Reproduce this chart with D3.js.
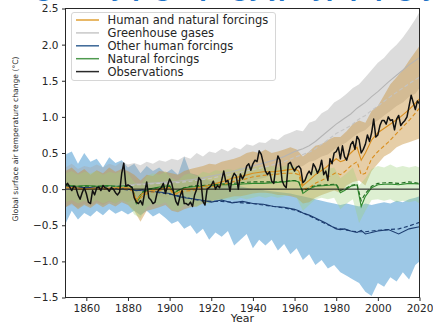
<!DOCTYPE html>
<html lang="en">
<head>
<meta charset="UTF-8">
<title>Global surface air temperature change</title>
<script src="https://d3js.org/d3.v7.min.js"></script>
<style>
    body {
        margin: 0;
        background: #fff;
        font-family: 'DejaVu Sans', sans-serif;
    }
    svg { display: block; }
    .tick text { font-size: 10.5px; fill: #262626; font-family: 'DejaVu Sans', sans-serif; }
    .tick line { stroke: #262626; }
</style>
</head>
<body>
<div id="chart"></div>
<script>
// ---- data ----
const xTicks = [1860, 1880, 1900, 1920, 1940, 1960, 1980, 2000, 2020];
const yTicks = [-1.5, -1.0, -0.5, 0.0, 0.5, 1.0, 1.5, 2.0, 2.5];

const legendLabels = ['Human and natural forcings', 'Greenhouse gases', 'Other human forcings', 'Natural forcings', 'Observations'];

// observations, one value per year
const obsYears = [
    1850, 1851, 1852, 1853, 1854, 1855, 1856, 1857, 1858, 1859,
    1860, 1861, 1862, 1863, 1864, 1865, 1866, 1867, 1868, 1869,
    1870, 1871, 1872, 1873, 1874, 1875, 1876, 1877, 1878, 1879,
    1880, 1881, 1882, 1883, 1884, 1885, 1886, 1887, 1888, 1889,
    1890, 1891, 1892, 1893, 1894, 1895, 1896, 1897, 1898, 1899,
    1900, 1901, 1902, 1903, 1904, 1905, 1906, 1907, 1908, 1909,
    1910, 1911, 1912, 1913, 1914, 1915, 1916, 1917, 1918, 1919,
    1920, 1921, 1922, 1923, 1924, 1925, 1926, 1927, 1928, 1929,
    1930, 1931, 1932, 1933, 1934, 1935, 1936, 1937, 1938, 1939,
    1940, 1941, 1942, 1943, 1944, 1945, 1946, 1947, 1948, 1949,
    1950, 1951, 1952, 1953, 1954, 1955, 1956, 1957, 1958, 1959,
    1960, 1961, 1962, 1963, 1964, 1965, 1966, 1967, 1968, 1969,
    1970, 1971, 1972, 1973, 1974, 1975, 1976, 1977, 1978, 1979,
    1980, 1981, 1982, 1983, 1984, 1985, 1986, 1987, 1988, 1989,
    1990, 1991, 1992, 1993, 1994, 1995, 1996, 1997, 1998, 1999,
    2000, 2001, 2002, 2003, 2004, 2005, 2006, 2007, 2008, 2009,
    2010, 2011, 2012, 2013, 2014, 2015, 2016, 2017, 2018, 2019,
    2020
];
const observations = [
    0.05, 0.08, 0.03, -0.02, 0.04, 0.02, -0.08, -0.14, -0.05, 0.02,
    -0.06, -0.18, -0.20, -0.02, -0.08, 0.02, 0.03, -0.02, 0.05, 0.02,
    0.01, -0.03, 0.02, 0.00, -0.05, -0.08, -0.04, 0.22, 0.36, 0.04,
    0.06, 0.04, 0.02, -0.12, -0.18, -0.20, -0.16, -0.22, -0.05, 0.10,
    -0.12, -0.15, -0.20, -0.18, -0.05, 0.00, 0.02, 0.08, -0.06, 0.05,
    0.14, 0.08, -0.05, -0.17, -0.22, -0.10, -0.02, -0.20, -0.20, -0.22,
    -0.18, -0.24, -0.08, 0.00, 0.16, 0.12, -0.17, -0.22, 0.00, 0.02,
    0.05, 0.11, 0.00, 0.05, 0.02, 0.12, 0.25, 0.10, 0.12, -0.03,
    0.15, 0.22, 0.18, 0.00, 0.21, 0.14, 0.20, 0.32, 0.35, 0.26,
    0.35, 0.40, 0.38, 0.53, 0.48, 0.36, 0.25, 0.20, 0.24, 0.11,
    0.08, 0.30, 0.46, 0.40, 0.12, 0.05, 0.02, 0.35, 0.37, 0.30,
    0.25, 0.30, 0.32, 0.28, 0.09, 0.12, 0.20, 0.25, 0.20, 0.35,
    0.30, 0.22, 0.28, 0.40, 0.20, 0.25, 0.12, 0.42, 0.35, 0.50,
    0.52, 0.58, 0.42, 0.60, 0.45, 0.40, 0.50, 0.62, 0.66, 0.55,
    0.73, 0.68, 0.50, 0.55, 0.62, 0.75, 0.66, 0.78, 0.97, 0.72,
    0.75, 0.88, 0.95, 0.95, 0.90, 1.00, 0.95, 0.96, 0.82, 0.97,
    1.02, 0.88, 0.92, 0.95, 1.00, 1.15, 1.30, 1.20, 1.10, 1.22,
    1.18
];

// model ensemble means (solid) and alternative estimates (dashed)
const meanYears = [1850, 1855, 1860, 1865, 1870, 1875, 1880, 1882, 1884, 1887,
    1890, 1895, 1900, 1902, 1904, 1907, 1910, 1915, 1920, 1925,
    1930, 1935, 1940, 1945, 1950, 1955, 1960, 1962, 1964, 1967,
    1970, 1975, 1980, 1982, 1984, 1987, 1990, 1992, 1994, 1997,
    2000, 2005, 2010, 2015, 2020];
const humanNatural = [0.03, 0.02, 0.00, 0.02, 0.01, 0.02, 0.02, 0.00, -0.15, -0.06,
    -0.03, 0.00, 0.02, -0.06, -0.05, 0.00, 0.00, 0.03, 0.06, 0.10,
    0.15, 0.18, 0.22, 0.24, 0.24, 0.26, 0.28, 0.25, 0.05, 0.12,
    0.20, 0.30, 0.42, 0.38, 0.40, 0.50, 0.58, 0.40, 0.50, 0.68,
    0.78, 0.88, 0.98, 1.10, 1.25];
const humanNaturalAlt = [0.02, 0.00, 0.00, 0.00, 0.00, 0.01, 0.00, -0.02, -0.18, -0.10,
    -0.05, -0.02, 0.00, -0.08, -0.06, -0.03, -0.02, 0.00, 0.03, 0.06,
    0.10, 0.13, 0.17, 0.19, 0.20, 0.22, 0.22, 0.20, 0.00, 0.02,
    0.08, 0.15, 0.23, 0.20, 0.24, 0.32, 0.38, 0.20, 0.22, 0.42,
    0.52, 0.65, 0.80, 0.95, 1.12];
const greenhouse = [0.00, 0.01, 0.02, 0.03, 0.04, 0.05, 0.06, 0.06, 0.07, 0.07,
    0.08, 0.09, 0.10, 0.10, 0.11, 0.12, 0.13, 0.15, 0.18, 0.21,
    0.24, 0.28, 0.32, 0.36, 0.40, 0.45, 0.52, 0.54, 0.56, 0.60,
    0.66, 0.78, 0.90, 0.94, 0.98, 1.04, 1.12, 1.16, 1.20, 1.28,
    1.35, 1.48, 1.60, 1.72, 1.82];
const greenhouseAlt = [0.00, 0.01, 0.02, 0.02, 0.03, 0.04, 0.05, 0.05, 0.06, 0.06,
    0.07, 0.08, 0.08, 0.09, 0.09, 0.10, 0.11, 0.13, 0.15, 0.18,
    0.20, 0.24, 0.27, 0.30, 0.34, 0.38, 0.44, 0.46, 0.48, 0.51,
    0.56, 0.66, 0.77, 0.80, 0.83, 0.88, 0.95, 0.99, 1.02, 1.09,
    1.15, 1.26, 1.36, 1.46, 1.55];
const otherHuman = [0.05, 0.03, 0.02, 0.03, 0.00, 0.01, 0.00, -0.01, -0.02, -0.01,
    -0.03, -0.04, -0.06, -0.08, -0.10, -0.12, -0.13, -0.15, -0.18, -0.15,
    -0.19, -0.17, -0.20, -0.21, -0.24, -0.25, -0.28, -0.30, -0.33, -0.36,
    -0.40, -0.47, -0.55, -0.56, -0.55, -0.58, -0.60, -0.57, -0.62, -0.60,
    -0.58, -0.56, -0.62, -0.55, -0.52];
const otherHumanAlt = [0.04, 0.03, 0.02, 0.01, 0.00, 0.00, -0.01, -0.01, -0.02, -0.02,
    -0.03, -0.05, -0.07, -0.08, -0.09, -0.11, -0.13, -0.16, -0.17, -0.17,
    -0.18, -0.19, -0.20, -0.22, -0.24, -0.26, -0.29, -0.31, -0.33, -0.37,
    -0.41, -0.48, -0.54, -0.55, -0.56, -0.58, -0.59, -0.59, -0.59, -0.58,
    -0.57, -0.56, -0.55, -0.51, -0.46];
const natural = [0.06, 0.04, 0.05, 0.04, 0.05, 0.04, 0.05, 0.03, -0.20, -0.05,
    0.00, 0.03, 0.05, -0.06, -0.02, 0.02, 0.03, 0.04, 0.05, 0.06,
    0.06, 0.07, 0.08, 0.08, 0.09, 0.10, 0.12, 0.10, -0.06, 0.00,
    0.04, 0.05, 0.06, -0.05, -0.02, 0.04, 0.06, -0.24, -0.10, 0.02,
    0.06, 0.07, 0.06, 0.08, 0.07];
const naturalAlt = [0.05, 0.04, 0.04, 0.04, 0.04, 0.04, 0.04, 0.02, -0.16, -0.04,
    0.00, 0.02, 0.04, -0.05, -0.02, 0.02, 0.04, 0.05, 0.06, 0.07,
    0.08, 0.09, 0.10, 0.10, 0.10, 0.11, 0.12, 0.10, -0.03, 0.02,
    0.05, 0.06, 0.07, -0.02, 0.00, 0.05, 0.07, -0.16, -0.06, 0.04,
    0.08, 0.09, 0.08, 0.10, 0.08];

// 5-95% ranges
const bandYears = [1850, 1853, 1856, 1859, 1862, 1865, 1868, 1871, 1874, 1877,
    1880, 1883, 1886, 1889, 1892, 1895, 1898, 1901, 1904, 1907,
    1910, 1913, 1916, 1919, 1922, 1925, 1928, 1931, 1934, 1937,
    1940, 1943, 1946, 1949, 1952, 1955, 1958, 1961, 1964, 1967,
    1970, 1973, 1976, 1979, 1982, 1985, 1988, 1991, 1994, 1997,
    2000, 2003, 2006, 2009, 2012, 2015, 2018, 2020];
const otherHumanHi = [0.48, 0.52, 0.35, 0.50, 0.38, 0.42, 0.30, 0.44, 0.36, 0.40,
    0.30, 0.35, 0.22, 0.32, 0.25, 0.30, 0.22, 0.28, 0.20, 0.45,
    0.22, 0.20, 0.15, 0.12, 0.10, 0.08, 0.06, 0.05, 0.04, 0.02,
    0.00, 0.00, -0.02, -0.03, -0.04, -0.05, -0.06, -0.08, -0.10, -0.12,
    -0.14, -0.16, -0.18, -0.20, -0.22, -0.20, -0.22, -0.24, -0.20, -0.22,
    -0.20, -0.18, -0.20, -0.16, -0.18, -0.14, -0.12, -0.10];
const otherHumanLo = [-0.48, -0.30, -0.42, -0.33, -0.38, -0.30, -0.36, -0.28, -0.34, -0.30,
    -0.35, -0.30, -0.36, -0.30, -0.38, -0.33, -0.40, -0.48, -0.44, -0.55,
    -0.50, -0.62, -0.55, -0.70, -0.60, -0.66, -0.58, -0.78, -0.70, -0.62,
    -0.82, -0.70, -0.78, -0.70, -0.85, -0.76, -0.90, -0.82, -0.98, -0.90,
    -1.05, -0.98, -1.10, -1.05, -1.15, -1.20, -1.25, -1.30, -1.42, -1.48,
    -1.30, -1.35, -1.22, -1.28, -1.15, -1.25, -1.05, -1.00];
const greenhouseHi = [0.30, 0.35, 0.28, 0.32, 0.30, 0.34, 0.30, 0.35, 0.32, 0.38,
    0.34, 0.36, 0.33, 0.38, 0.35, 0.40, 0.38, 0.42, 0.40, 0.45,
    0.42, 0.50, 0.45, 0.52, 0.50, 0.56, 0.52, 0.58, 0.55, 0.62,
    0.60, 0.65, 0.64, 0.70, 0.68, 0.75, 0.78, 0.82, 0.80, 0.92,
    0.95, 1.05, 1.10, 1.20, 1.25, 1.32, 1.40, 1.45, 1.55, 1.65,
    1.75, 1.82, 1.92, 2.00, 2.10, 2.22, 2.35, 2.45];
const greenhouseLo = [-0.25, -0.22, -0.26, -0.20, -0.24, -0.18, -0.22, -0.17, -0.20, -0.15,
    -0.18, -0.14, -0.16, -0.12, -0.15, -0.10, -0.12, -0.08, -0.10, -0.06,
    -0.08, -0.04, -0.05, 0.00, -0.02, 0.02, 0.04, 0.06, 0.05, 0.10,
    0.12, 0.14, 0.16, 0.20, 0.20, 0.24, 0.26, 0.30, 0.32, 0.38,
    0.40, 0.45, 0.48, 0.55, 0.60, 0.65, 0.72, 0.78, 0.82, 0.90,
    0.95, 1.02, 1.08, 1.15, 1.20, 1.28, 1.32, 1.40];
const humanNaturalHi = [0.25, 0.30, 0.22, 0.28, 0.20, 0.26, 0.22, 0.30, 0.24, 0.28,
    0.25, 0.20, 0.12, 0.20, 0.18, 0.25, 0.24, 0.22, 0.20, 0.25,
    0.28, 0.30, 0.32, 0.35, 0.34, 0.38, 0.40, 0.42, 0.45, 0.50,
    0.52, 0.50, 0.55, 0.50, 0.52, 0.55, 0.58, 0.55, 0.45, 0.52,
    0.60, 0.62, 0.68, 0.72, 0.72, 0.80, 0.90, 0.95, 0.92, 1.08,
    1.15, 1.30, 1.45, 1.55, 1.65, 1.78, 1.90, 1.98];
const humanNaturalLo = [-0.25, -0.20, -0.28, -0.22, -0.26, -0.20, -0.25, -0.20, -0.24, -0.18,
    -0.22, -0.30, -0.45, -0.30, -0.28, -0.25, -0.22, -0.30, -0.32, -0.28,
    -0.25, -0.24, -0.20, -0.18, -0.15, -0.14, -0.12, -0.10, -0.10, -0.08,
    -0.06, -0.05, -0.05, -0.06, -0.08, -0.08, -0.10, -0.12, -0.20, -0.18,
    -0.12, -0.08, -0.05, -0.02, -0.05, 0.05, 0.10, 0.12, 0.05, 0.25,
    0.35, 0.45, 0.50, 0.58, 0.62, 0.65, 0.68, 0.70];
const naturalHi = [0.22, 0.25, 0.20, 0.24, 0.22, 0.25, 0.20, 0.24, 0.22, 0.25,
    0.22, 0.10, 0.05, 0.18, 0.22, 0.20, 0.24, 0.15, 0.12, 0.20,
    0.22, 0.18, 0.24, 0.22, 0.26, 0.25, 0.28, 0.26, 0.30, 0.28,
    0.30, 0.32, 0.30, 0.32, 0.30, 0.32, 0.34, 0.30, 0.12, 0.20,
    0.28, 0.30, 0.28, 0.30, 0.15, 0.22, 0.30, 0.05, 0.15, 0.28,
    0.32, 0.30, 0.34, 0.30, 0.32, 0.30, 0.32, 0.30];
const naturalLo = [-0.18, -0.15, -0.20, -0.16, -0.20, -0.15, -0.20, -0.16, -0.20, -0.15,
    -0.20, -0.35, -0.40, -0.25, -0.20, -0.22, -0.18, -0.28, -0.30, -0.22,
    -0.20, -0.25, -0.18, -0.20, -0.15, -0.16, -0.14, -0.15, -0.12, -0.14,
    -0.12, -0.10, -0.12, -0.10, -0.12, -0.10, -0.08, -0.12, -0.30, -0.22,
    -0.14, -0.12, -0.14, -0.12, -0.28, -0.20, -0.14, -0.47, -0.30, -0.15,
    -0.14, -0.16, -0.14, -0.18, -0.16, -0.18, -0.16, -0.20];

// ---- layout ----
const width = 433, height = 324;
const plot = { left: 65.5, right: 419.5, top: 8.5, bottom: 297.5 };

const svg = d3.select('#chart')
    .append('svg')
    .attr('width', width)
    .attr('height', height);

svg.append('rect').attr('width', width).attr('height', height).attr('fill', '#fff');

// cropped slide heading above the figure (only its lowest pixels show)
svg.append('text')
    .attr('x', 4)
    .attr('y', -3)
    .attr('fill', '#1f73c6')
    .style('font-size', '22px')
    .style('font-weight', 'bold')
    .text('[Figure: y p g] [p] gy jp [ypq] p g y');

const x = d3.scaleLinear().domain([1850, 2020]).range([plot.left, plot.right]);
const y = d3.scaleLinear().domain([-1.5, 2.5]).range([plot.bottom, plot.top]);

svg.append('clipPath').attr('id', 'plot-clip')
    .append('rect')
    .attr('x', plot.left).attr('y', plot.top)
    .attr('width', plot.right - plot.left).attr('height', plot.bottom - plot.top);

const g = svg.append('g').attr('clip-path', 'url(#plot-clip)');

function bandRows(lo, hi) {
    return bandYears.map((yr, i) => ({ year: yr, lo: lo[i], hi: hi[i] }));
}
function lineRows(years, vals) {
    return years.map((yr, i) => ({ year: yr, v: vals[i] }));
}

const area = d3.area()
    .x(d => x(d.year))
    .y0(d => y(d.lo))
    .y1(d => y(d.hi));

const line = d3.line()
    .x(d => x(d.year))
    .y(d => y(d.v));

// shaded ranges
const bands = [
    { lo: otherHumanLo, hi: otherHumanHi, fill: '#4c9bd1', op: 0.55 },
    { lo: greenhouseLo, hi: greenhouseHi, fill: '#a8a8a8', op: 0.4 },
    { lo: humanNaturalLo, hi: humanNaturalHi, fill: '#c8923c', op: 0.45 },
    { lo: naturalLo, hi: naturalHi, fill: '#9fd07a', op: 0.35 }
];
bands.forEach(b => {
    g.append('path')
        .datum(bandRows(b.lo, b.hi))
        .attr('d', area)
        .attr('fill', b.fill)
        .attr('fill-opacity', b.op);
});

// model lines
const modelLines = [
    { vals: greenhouse, color: '#b5b5b5', dash: null },
    { vals: greenhouseAlt, color: '#c4c4c4', dash: '4,2.5' },
    { vals: otherHuman, color: '#1d3d70', dash: null },
    { vals: otherHumanAlt, color: '#1d3d70', dash: '4,2.5' },
    { vals: natural, color: '#2f8a2f', dash: null },
    { vals: naturalAlt, color: '#1f6a1f', dash: '4,2.5' },
    { vals: humanNatural, color: '#d98e1e', dash: null },
    { vals: humanNaturalAlt, color: '#d98e1e', dash: '4,2.5' }
];
modelLines.forEach(m => {
    g.append('path')
        .datum(lineRows(meanYears, m.vals))
        .attr('d', line)
        .attr('fill', 'none')
        .attr('stroke', m.color)
        .attr('stroke-width', 1.1)
        .attr('stroke-dasharray', m.dash);
});

// zero line
g.append('line')
    .attr('x1', plot.left).attr('x2', plot.right)
    .attr('y1', y(0)).attr('y2', y(0))
    .attr('stroke', '#111').attr('stroke-width', 1);

// observations
g.append('path')
    .datum(lineRows(obsYears, observations))
    .attr('d', line)
    .attr('fill', 'none')
    .attr('stroke', '#111')
    .attr('stroke-width', 1.5)
    .attr('stroke-linejoin', 'round');

// axes
const yAxis = svg.append('g')
    .attr('transform', `translate(${plot.left},0)`)
    .call(d3.axisLeft(y).tickValues(yTicks).tickSize(3.5).tickPadding(3.5).tickFormat(d3.format('.1f')));
yAxis.select('.domain').remove();

const xAxis = svg.append('g')
    .attr('transform', `translate(0,${plot.bottom})`)
    .call(d3.axisBottom(x).tickValues(xTicks).tickSize(3.5).tickPadding(3.5).tickFormat(d => d));
xAxis.select('.domain').remove();

svg.append('rect')
    .attr('x', plot.left).attr('y', plot.top)
    .attr('width', plot.right - plot.left).attr('height', plot.bottom - plot.top)
    .attr('fill', 'none')
    .attr('stroke', '#262626')
    .attr('stroke-width', 1);

// axis titles
svg.append('text')
    .attr('x', (plot.left + plot.right) / 2)
    .attr('y', 322)
    .attr('text-anchor', 'middle')
    .attr('fill', '#262626')
    .style('font-size', '11px')
    .text('Year');

svg.append('text')
    .attr('transform', 'translate(18,139) rotate(-90)')
    .attr('text-anchor', 'middle')
    .attr('fill', '#262626')
    .style('font-size', '7.6px')
    .text('Global surface air temperature change (°C)');

// legend
const legendColors = ['#e0a035', '#c8c8c8', '#3a6696', '#4f9a4f', '#2a2a2a'];
const legend = svg.append('g');
legend.append('rect')
    .attr('x', 71.5).attr('y', 12.5)
    .attr('width', 204).attr('height', 68)
    .attr('rx', 2.5)
    .attr('fill', '#fff')
    .attr('fill-opacity', 0.85)
    .attr('stroke', '#d6d6d6');

legendLabels.forEach((label, i) => {
    const cy = 20 + i * 12.9;
    legend.append('line')
        .attr('x1', 76).attr('x2', 99)
        .attr('y1', cy).attr('y2', cy)
        .attr('stroke', legendColors[i])
        .attr('stroke-width', 1.5);
    legend.append('text')
        .attr('x', 107.5)
        .attr('y', cy + 4)
        .attr('fill', '#262626')
        .style('font-size', '11.5px')
        .text(label);
});
</script>
</body>
</html>
